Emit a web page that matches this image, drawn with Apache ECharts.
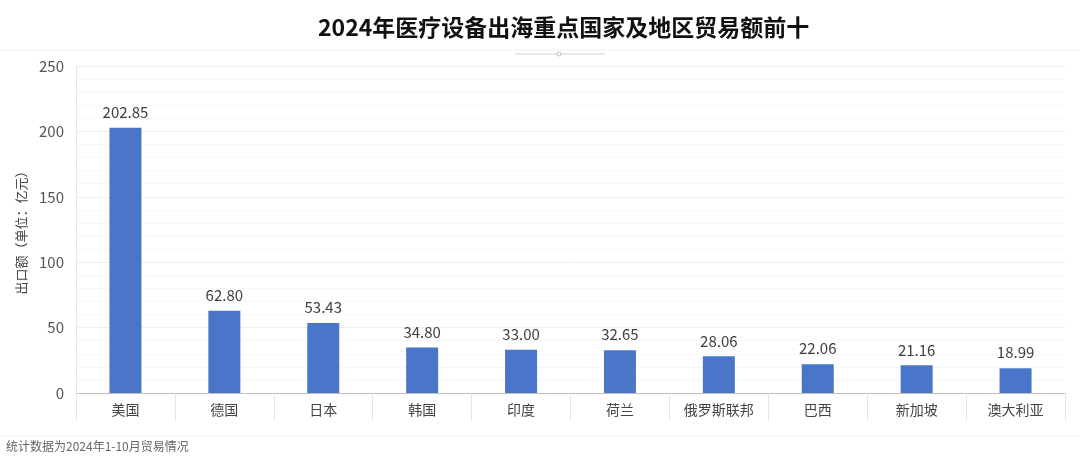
<!DOCTYPE html>
<html><head><meta charset="utf-8">
<script src="https://cdn.jsdelivr.net/npm/echarts@6/dist/echarts.min.js"></script>
<style>html,body{margin:0;padding:0;background:#fff}#c{width:1080px;height:456px}</style>
</head><body><div id="c"></div>
<script>
const categories = ['美国','德国','日本','韩国','印度','荷兰','俄罗斯联邦','巴西','新加坡','澳大利亚'];
const values = [202.85, 62.80, 53.43, 34.80, 33.00, 32.65, 28.06, 22.06, 21.16, 18.99];
const yTicks = [0, 50, 100, 150, 200, 250];
const titleText = '2024年医疗设备出海重点国家及地区贸易额前十';
const yName = '出口额（单位：亿元）';
const note = '统计数据为2024年1-10月贸易情况';

const chart = echarts.init(document.getElementById('c'));
const font = '"Noto Sans CJK SC", "Noto Sans", sans-serif';
chart.setOption({
  backgroundColor: '#fff',
  animation: false,
  title: {text: titleText, left: 313, top: 11,
    textStyle: {fontFamily: font, fontSize: 23, fontWeight: 'bold', color: '#111'}},
  graphic: [
    {type: 'line', shape: {x1: 0, y1: 50, x2: 1080, y2: 50}, style: {stroke: '#eeeeee', lineWidth: 1}},
    {type: 'line', shape: {x1: 515, y1: 54, x2: 605, y2: 54}, style: {stroke: '#d0d0d0', lineWidth: 1}},
    {type: 'circle', shape: {cx: 559, cy: 54, r: 2}, style: {fill: '#fff', stroke: '#bbb', lineWidth: 1}},
    {type: 'line', shape: {x1: 0, y1: 436, x2: 1080, y2: 436}, style: {stroke: '#eeeeee', lineWidth: 1}},
    {type: 'text', left: 6, top: 440, style: {text: note, fontFamily: font, fontSize: 12, fill: '#666'}}
  ],
  grid: {left: 76, right: 15, top: 66, bottom: 63, containLabel: false},
  xAxis: {
    type: 'category', data: categories,
    axisLine: {lineStyle: {color: '#bfbfbf'}},
    axisTick: {show: true, length: 28, lineStyle: {color: '#e6e6e6'}, alignWithLabel: false},
    axisLabel: {fontFamily: font, fontSize: 14, color: '#444', margin: 10}
  },
  yAxis: {
    type: 'value', min: 0, max: 250, interval: 50,
    name: yName, nameLocation: 'middle', nameGap: 48, nameRotate: 90,
    nameTextStyle: {fontFamily: font, fontSize: 13, color: '#444'},
    axisLine: {show: true, lineStyle: {color: '#e6e6e6'}},
    axisTick: {show: false},
    axisLabel: {fontFamily: font, fontSize: 15, color: '#555', margin: 12},
    splitLine: {lineStyle: {color: '#eeeeee'}},
    minorTick: {show: false},
    minorSplitLine: {show: true, lineStyle: {color: '#f7f7f7'}}
  },
  series: [{
    type: 'bar', data: values, barWidth: 32,
    itemStyle: {color: '#4a76c9'},
    label: {show: true, position: 'top', distance: 8, fontFamily: font, fontSize: 15, color: '#404040',
      formatter: p => p.value.toFixed(2)}
  }]
});
</script></body></html>
